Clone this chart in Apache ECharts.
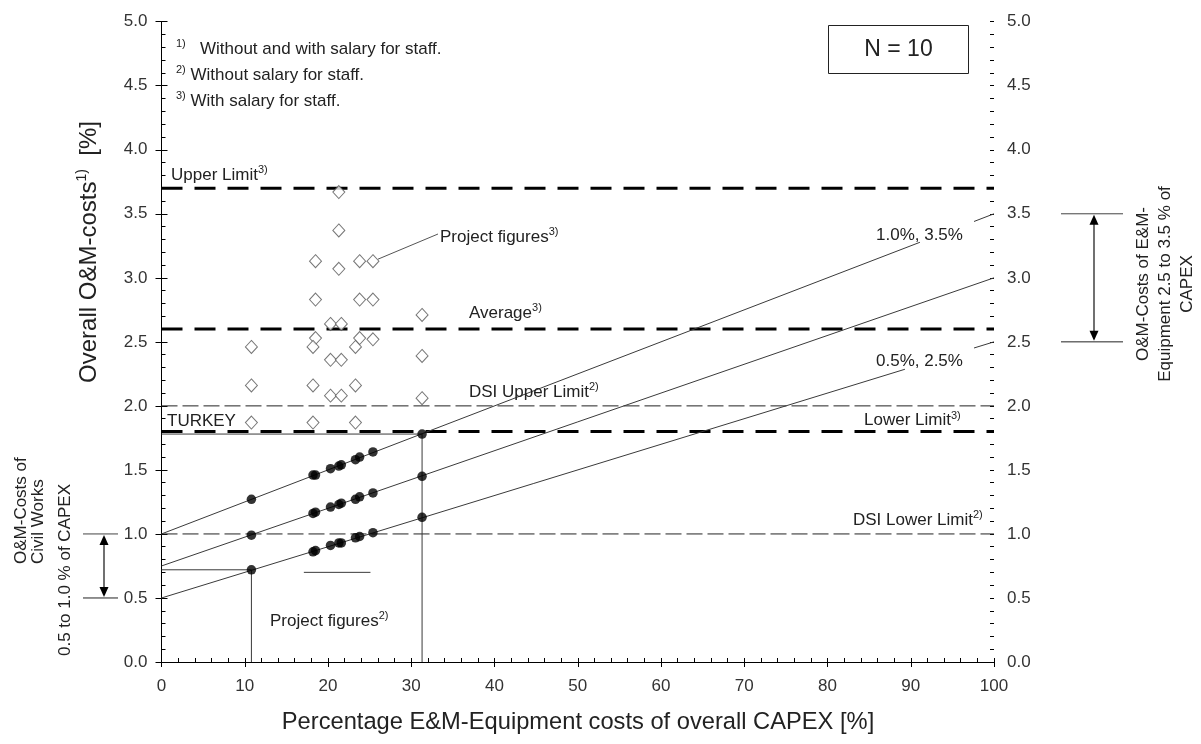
<!DOCTYPE html>
<html>
<head>
<meta charset="utf-8">
<title>Overall O&amp;M-costs vs. E&amp;M-equipment share of CAPEX</title>
<script src="https://cdn.jsdelivr.net/npm/echarts@6/dist/echarts.min.js"></script>
<style>
  html, body { margin: 0; padding: 0; background: #ffffff; }
  #chart { width: 1201px; height: 744px; }
</style>
</head>
<body>
<div id="chart"></div>
<script>
// Axis ticks
const xTicks = [0, 10, 20, 30, 40, 50, 60, 70, 80, 90, 100];
const yTicks = [0.0, 0.5, 1.0, 1.5, 2.0, 2.5, 3.0, 3.5, 4.0, 4.5, 5.0];

// E&M-equipment share of overall CAPEX for the ten projects [%]
const projectShare = [10.8, 18.2, 18.5, 20.3, 21.3, 21.6, 23.3, 23.8, 25.4, 31.3];

// O&M-costs without salary for staff, on the three reference lines [%]
const omOnUpperLine = [1.27, 1.46, 1.46, 1.51, 1.53, 1.54, 1.58, 1.60, 1.64, 1.78];
const omOnMiddleLine = [0.99, 1.16, 1.17, 1.21, 1.23, 1.24, 1.27, 1.29, 1.32, 1.45];
const omOnLowerLine = [0.72, 0.86, 0.87, 0.91, 0.93, 0.93, 0.97, 0.98, 1.01, 1.13];

// O&M-costs with salary for staff [%]
const withSalaryLow = [1.87, 1.87, 2.53, 2.08, 3.07, 2.08, 1.87, 2.53, 2.52, 2.06];
const withSalaryMid = [2.16, 2.16, 2.83, 2.36, 3.37, 2.36, 2.16, 2.83, 2.83, 2.39];
const withSalaryHigh = [2.46, 2.46, 3.13, 2.64, 3.67, 2.64, 2.46, 3.13, 3.13, 2.71];

// Reference lines: O&M-costs of civil works (value at 0 %) and of E&M-equipment (value at 100 %)
const refNames = ['1.0%, 3.5%', '', '0.5%, 2.5%'];
const refAtZero = [1.0, 0.75, 0.5];
const refAtHundred = [3.5, 3.0, 2.5];

// Limits with salary for staff
const limitNames = ['Upper Limit', 'Average', 'Lower Limit'];
const limitValues = [3.7, 2.6, 1.8];

// DSI limits without salary for staff
const dsiNames = ['DSI Upper Limit', 'DSI Lower Limit'];
const dsiValues = [2.0, 1.0];

// Ranges of the side brackets
const civilRange = [0.5, 1.0];
const emRange = [2.5, 3.5];

const sampleSize = 10;

// ---------------------------------------------------------------------------
const FONT = '"Liberation Sans", Arial, Helvetica, sans-serif';
const INK = '#000000';
const TEXT = '#222222';
const LINE = '#3a3a3a';
const FS = 17;

// places where the sloped lines leave room for their labels
const refGaps = [[91.1, 97.6], null, [89.3, 97.6]];

const chart = echarts.init(document.getElementById('chart'), null, { renderer: 'canvas' });

function lineAt(i, x) {
  return refAtZero[i] + (refAtHundred[i] - refAtZero[i]) * x / 100;
}

const series = [];

// DSI limits: thin dashed
dsiValues.forEach(function (v) {
  series.push({
    type: 'line', data: [[0, v], [100, v]], symbol: 'none', silent: true,
    lineStyle: { color: '#222', width: 1, type: [16, 5] }, z: 2
  });
});

// limits with salary: heavy dashed
limitValues.forEach(function (v) {
  series.push({
    type: 'line', data: [[0, v], [100, v]], symbol: 'none', silent: true,
    lineStyle: { color: INK, width: 3, type: [21, 12] }, z: 3
  });
});

// sloped reference lines
refAtZero.forEach(function (a, i) {
  const gap = refGaps[i];
  const pieces = gap ? [[0, gap[0]], [gap[1], 100]] : [[0, 100]];
  pieces.forEach(function (p) {
    series.push({
      type: 'line', data: [[p[0], lineAt(i, p[0])], [p[1], lineAt(i, p[1])]],
      symbol: 'none', silent: true, lineStyle: { color: LINE, width: 1 }, z: 4
    });
  });
});

// guide lines from the smallest and the largest project to the axes
const first = 0, last = projectShare.length - 1;
[
  [[projectShare[first], 0], [projectShare[first], omOnLowerLine[first]]],
  [[0, omOnLowerLine[first]], [projectShare[first], omOnLowerLine[first]]],
  [[projectShare[last], 0], [projectShare[last], omOnUpperLine[last]]],
  [[0, omOnUpperLine[last]], [projectShare[last], omOnUpperLine[last]]]
].forEach(function (seg) {
  series.push({
    type: 'line', data: seg, symbol: 'none', silent: true,
    lineStyle: { color: LINE, width: 1 }, z: 4
  });
});

// pointer line under the project cluster (without salary)
series.push({
  type: 'line', data: [[17.1, 0.70], [25.1, 0.70]], symbol: 'none', silent: true,
  lineStyle: { color: LINE, width: 1 }, z: 4
});

// project figures without salary: filled dots
[omOnUpperLine, omOnMiddleLine, omOnLowerLine].forEach(function (vals) {
  series.push({
    type: 'scatter', data: projectShare.map(function (x, k) { return [x, vals[k]]; }),
    symbol: 'circle', symbolSize: 9.5, itemStyle: { color: INK }, z: 6, silent: true
  });
});

// project figures with salary: open diamonds
[withSalaryLow, withSalaryMid, withSalaryHigh].forEach(function (vals) {
  series.push({
    type: 'scatter', data: projectShare.map(function (x, k) { return [x, vals[k]]; }),
    symbol: 'diamond', symbolSize: [12, 13],
    itemStyle: { color: '#ffffff', borderColor: '#555', borderWidth: 1 }, z: 7, silent: true
  });
});

const axisText = { color: '#333', fontSize: FS, fontFamily: FONT };
const gridBox = { left: 161.5, top: 21.7, width: 832.5, height: 640.3 };

chart.setOption({
  animation: false,
  backgroundColor: '#ffffff',
  grid: gridBox,
  xAxis: [
    {
      type: 'value', position: 'bottom', min: 0, max: 100, interval: 10,
      axisLine: { show: true, lineStyle: { color: INK, width: 1 } },
      axisTick: { show: true, inside: false, length: 5, lineStyle: { color: INK } },
      axisLabel: Object.assign({ margin: 16 }, axisText),
      splitLine: { show: false }
    },
    {
      type: 'value', position: 'bottom', min: 0, max: 100, interval: 10,
      axisLine: { show: false },
      axisTick: { show: true, inside: true, length: 4, lineStyle: { color: INK } },
      minorTick: { show: true, splitNumber: 5, length: 4, lineStyle: { color: INK } },
      axisLabel: { show: false }, splitLine: { show: false }
    },
    {
      type: 'value', position: 'top', min: 0, max: 100, interval: 10,
      axisLine: { show: true, lineStyle: { color: INK, width: 1 } },
      axisTick: { show: false }, axisLabel: { show: false }, splitLine: { show: false }
    }
  ],
  yAxis: [
    {
      type: 'value', position: 'left', min: 0, max: 5, interval: 0.5,
      axisLine: { show: true, lineStyle: { color: INK, width: 1 } },
      axisTick: { show: true, inside: false, length: 6, lineStyle: { color: INK } },
      axisLabel: Object.assign({ margin: 14, formatter: function (v) { return v.toFixed(1); } }, axisText),
      splitLine: { show: false }
    },
    {
      type: 'value', position: 'left', min: 0, max: 5, interval: 0.5,
      axisLine: { show: false },
      axisTick: { show: true, inside: true, length: 4, lineStyle: { color: INK } },
      minorTick: { show: true, splitNumber: 5, length: 4, lineStyle: { color: INK } },
      axisLabel: { show: false }, splitLine: { show: false }
    },
    {
      type: 'value', position: 'right', min: 0, max: 5, interval: 0.5,
      axisLine: { show: true, lineStyle: { color: INK, width: 1 } },
      axisTick: { show: true, inside: false, length: 6, lineStyle: { color: INK } },
      axisLabel: Object.assign({ margin: 13, formatter: function (v) { return v.toFixed(1); } }, axisText),
      splitLine: { show: false }
    },
    {
      type: 'value', position: 'right', min: 0, max: 5, interval: 0.5,
      axisLine: { show: false },
      axisTick: { show: true, inside: true, length: 4, lineStyle: { color: INK } },
      minorTick: { show: true, splitNumber: 5, length: 4, lineStyle: { color: INK } },
      axisLabel: { show: false }, splitLine: { show: false }
    }
  ],
  series: series
});

// ---------------------------------------------------------------------------
// annotations
function px(x, y) { return chart.convertToPixel({ gridIndex: 0 }, [x, y]); }
function py(y) { return px(0, y)[1]; }

const supRich = {
  a: { fontSize: FS, lineHeight: 21, fontFamily: FONT, color: TEXT },
  s: { fontSize: 11, lineHeight: 11, fontFamily: FONT, color: TEXT, verticalAlign: 'top' }
};

function label(x, y, text, opts) {
  opts = opts || {};
  return {
    type: 'text', x: x, y: y, z: 20, silent: true, rotation: opts.rotation || 0,
    style: Object.assign({
      text: text, rich: opts.rich || supRich, fill: TEXT,
      font: (opts.size || FS) + 'px ' + FONT,
      align: opts.align || 'left', verticalAlign: opts.verticalAlign || 'middle'
    }, opts.style || {})
  };
}

function sup(main, mark) { return '{a|' + main + '}{s|' + mark + '}'; }

function bracket(xc, halfLeft, halfRight, yTop, yBottom) {
  const els = [];
  els.push({ type: 'line', z: 20, silent: true, shape: { x1: xc - halfLeft, y1: yTop, x2: xc + halfRight, y2: yTop }, style: { stroke: '#444', lineWidth: 1 } });
  els.push({ type: 'line', z: 20, silent: true, shape: { x1: xc - halfLeft, y1: yBottom, x2: xc + halfRight, y2: yBottom }, style: { stroke: '#222', lineWidth: 1 } });
  els.push({ type: 'line', z: 20, silent: true, shape: { x1: xc, y1: yTop + 8, x2: xc, y2: yBottom - 8 }, style: { stroke: '#111', lineWidth: 1.2 } });
  els.push({ type: 'polygon', z: 20, silent: true, shape: { points: [[xc, yTop + 1], [xc - 4.5, yTop + 11], [xc + 4.5, yTop + 11]] }, style: { fill: '#000' } });
  els.push({ type: 'polygon', z: 20, silent: true, shape: { points: [[xc, yBottom - 1], [xc - 4.5, yBottom - 11], [xc + 4.5, yBottom - 11]] }, style: { fill: '#000' } });
  return els;
}

const leaderFrom = px(projectShare[8], withSalaryHigh[8]);

const graphics = [
  // footnotes
  label(176, 49, '{s|1)}{a|   Without and with salary for staff.}'),
  label(176, 75, '{s|2)}{a| Without salary for staff.}'),
  label(176, 101, '{s|3)}{a| With salary for staff.}'),

  // sample size box
  { type: 'rect', z: 20, silent: true, shape: { x: 828.5, y: 25.5, width: 140, height: 48 }, style: { fill: '#fff', stroke: '#222', lineWidth: 1 } },
  label(898.5, 50, 'N = ' + sampleSize, { size: 23, align: 'center', rich: {} }),

  // limit labels
  label(171, py(limitValues[0]) - 13, sup(limitNames[0], '3)')),
  label(469, py(limitValues[1]) - 16, sup(limitNames[1], '3)')),
  label(864, py(limitValues[2]) - 11, sup(limitNames[2], '3)')),
  label(469, py(dsiValues[0]) - 14, sup(dsiNames[0], '2)')),
  label(853, py(dsiValues[1]) - 14, sup(dsiNames[1], '2)')),
  label(167, py(limitValues[2]) - 10, 'TURKEY', { rich: {} }),

  // reference line labels
  label(876, 235, refNames[0], { rich: {} }),
  label(876, 361, refNames[2], { rich: {} }),

  // project figure labels
  { type: 'line', z: 20, silent: true, shape: { x1: leaderFrom[0] + 5, y1: leaderFrom[1] - 2, x2: 438, y2: 234 }, style: { stroke: '#555', lineWidth: 1 } },
  label(440, 237, sup('Project figures', '3)')),
  label(270, 621, sup('Project figures', '2)')),

  // axis titles
  label(578, 722, 'Percentage E&M-Equipment costs of overall CAPEX [%]', { size: 23.7, align: 'center', rich: {} }),
  label(89, 252, '{t|Overall O&M-costs}{u|1)}{t|  [%]}', {
    rotation: Math.PI / 2, align: 'center',
    rich: {
      t: { fontSize: 24, lineHeight: 28, fontFamily: FONT, color: TEXT },
      u: { fontSize: 14, lineHeight: 14, fontFamily: FONT, color: TEXT, verticalAlign: 'top' }
    }
  }),

  // civil works bracket (left)
  label(21, 564, 'O&M-Costs of', { rotation: Math.PI / 2, rich: {} }),
  label(38, 564, 'Civil Works', { rotation: Math.PI / 2, rich: {} }),
  label(65, 656, '0.5 to 1.0 % of CAPEX', { rotation: Math.PI / 2, rich: {} }),

  // E&M-equipment bracket (right)
  label(1165, 284, 'O&M-Costs of E&M-\nEquipment 2.5 to 3.5 % of\nCAPEX', {
    rotation: Math.PI / 2, align: 'center', rich: {},
    style: { lineHeight: 22 }
  })
];

bracket(104, 21, 14, py(civilRange[1]), py(civilRange[0])).forEach(function (e) { graphics.push(e); });
bracket(1094, 33, 29, py(emRange[1]), py(emRange[0])).forEach(function (e) { graphics.push(e); });

chart.setOption({ graphic: graphics });
</script>
</body>
</html>
